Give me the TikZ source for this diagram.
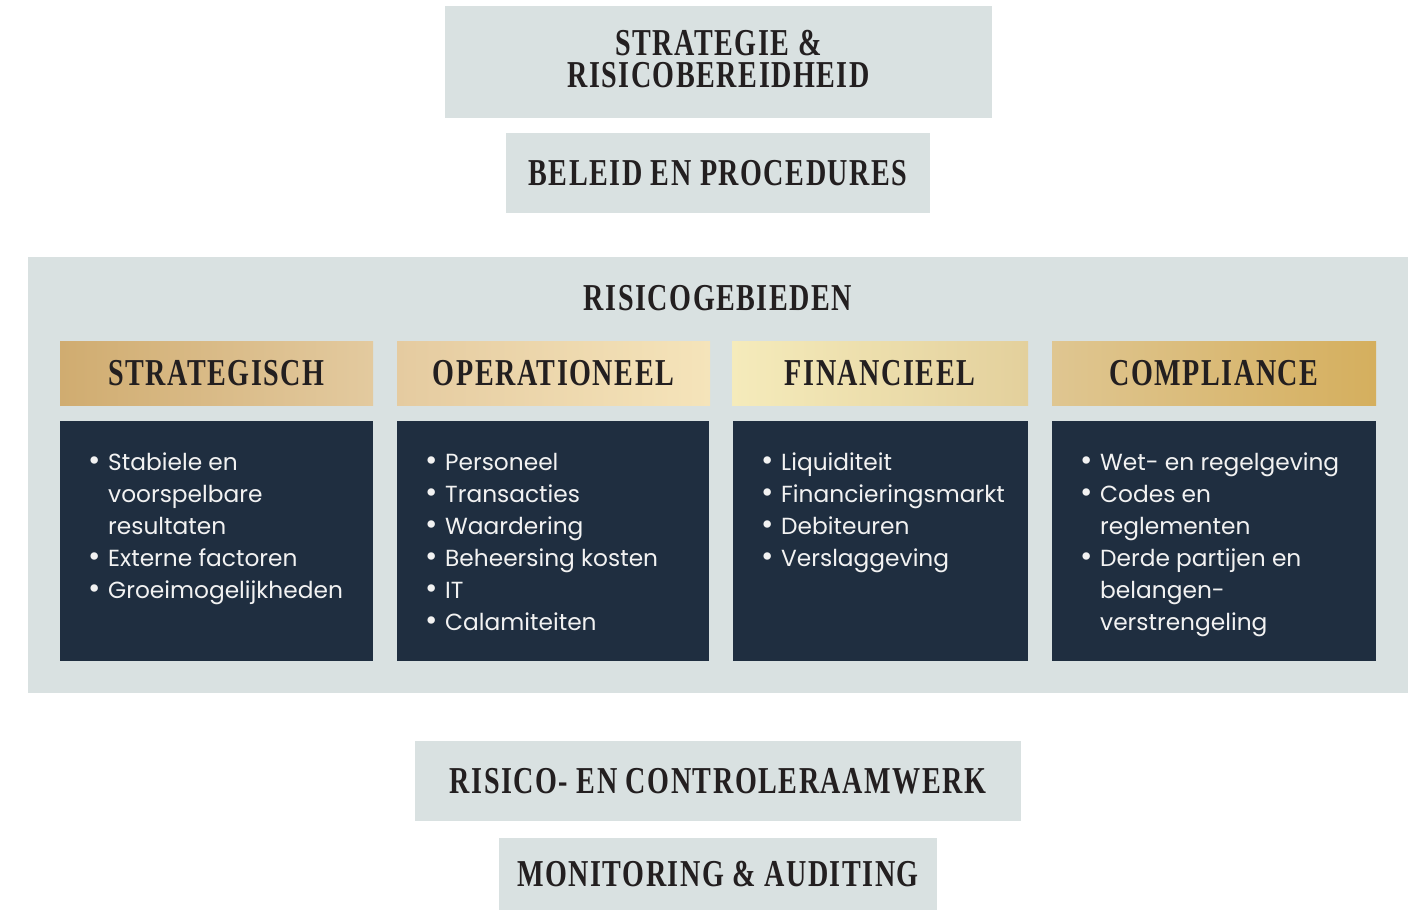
\documentclass[tikz,border=0pt]{standalone}
\usepackage{fontspec}
\setmainfont{Poppins}
\newfontfamily\titlefont[FakeStretch=0.74,LetterSpace=4]{Liberation Serif}
\usetikzlibrary{positioning}

\definecolor{panelgrey}{HTML}{D9E1E1}
\definecolor{navy}{HTML}{1F2E40}
\definecolor{ink}{HTML}{231F20}
\definecolor{listwhite}{HTML}{F2F2F2}

% bullet and hanging indent for the lists
\newcommand{\itembul}{\makebox[20pt][l]{\fontsize{30}{32}\selectfont\textbullet}}
\newcommand{\itemind}{\hspace*{20pt}}

\begin{document}
\begin{tikzpicture}[x=1pt,y=-1pt,
    greybox/.style={fill=panelgrey, inner sep=0pt, text=ink,
        font=\titlefont\bfseries\fontsize{38}{32}\selectfont},
    oneline/.style={text height=25pt, text depth=0pt},
    headbox/.style={inner sep=0pt, text=ink, minimum height=64pt, oneline,
        font=\titlefont\bfseries\fontsize{38}{32}\selectfont},
    listbox/.style={fill=navy, inner sep=0pt, minimum height=240pt},
    listtext/.style={anchor=north west, inner sep=0pt, align=left,
        text=listwhite, font=\fontsize{23.3}{32}\selectfont}]

    \useasboundingbox[fill=white] (0,0) rectangle (1416,911);

    % Top of the framework
    \node[greybox, minimum width=547pt, minimum height=112pt, align=center,
        text depth=6pt] (strategy) at (718.5,62) {STRATEGIE \&\\RISICOBEREIDHEID};
    \node[greybox, oneline, minimum width=424pt, minimum height=80pt] (policy) at (718,173)
        {BELEID EN PROCEDURES};

    % Risk areas panel
    \node[fill=panelgrey, inner sep=0pt, minimum width=1380pt, minimum height=436pt]
        (panel) at (718,475) {};
    \node[greybox, oneline, fill=none] (areas) at (718,298) {RISICOGEBIEDEN};

    % Gold column headers
    \node[headbox, minimum width=313pt,
        left color={rgb,255:red,208;green,172;blue,112},
        right color={rgb,255:red,227;green,202;blue,159}] (hStrat) at (216.5,373) {STRATEGISCH};
    \node[headbox, minimum width=313pt,
        left color={rgb,255:red,229;green,203;blue,160},
        right color={rgb,255:red,245;green,228;blue,186}] (hOper) at (553.5,373) {OPERATIONEEL};
    \node[headbox, minimum width=296pt,
        left color={rgb,255:red,245;green,235;blue,187},
        right color={rgb,255:red,227;green,208;blue,156}] (hFin) at (880,373) {FINANCIEEL};
    \node[headbox, minimum width=324pt,
        left color={rgb,255:red,223;green,198;blue,145},
        right color={rgb,255:red,213;green,175;blue,94}] (hComp) at (1214,373) {COMPLIANCE};

    % Dark list boxes
    \node[listbox, minimum width=313pt] (bStrat) at (216.5,541) {};
    \node[listbox, minimum width=312pt] (bOper) at (553,541) {};
    \node[listbox, minimum width=295pt] (bFin) at (880.5,541) {};
    \node[listbox, minimum width=324pt] (bComp) at (1214,541) {};

    \node[listtext] (tStrat) at (88,448)
        {\strut\itembul Stabiele en\\ \itemind voorspelbare\\ \itemind resultaten\\
         \itembul Externe factoren\\ \itembul Groeimogelijkheden};
    \node[listtext] (tOper) at (425,448)
        {\strut\itembul Personeel\\ \itembul Transacties\\ \itembul Waardering\\
         \itembul Beheersing kosten\\ \itembul IT\\ \itembul Calamiteiten};
    \node[listtext] (tFin) at (761,448)
        {\strut\itembul Liquiditeit\\ \itembul Financieringsmarkt\\ \itembul Debiteuren\\
         \itembul Verslaggeving};
    \node[listtext] (tComp) at (1080,448)
        {\strut\itembul Wet- en regelgeving\\ \itembul Codes en\\ \itemind reglementen\\
         \itembul Derde partijen en\\ \itemind belangen-\\ \itemind verstrengeling};

    % Bottom of the framework
    \node[greybox, oneline, minimum width=606pt, minimum height=80pt] (framework) at (718,781)
        {RISICO- EN CONTROLERAAMWERK};
    \node[greybox, oneline, minimum width=438pt, minimum height=72pt] (monitoring) at (718,874)
        {MONITORING \& AUDITING};
\end{tikzpicture}
\end{document}
